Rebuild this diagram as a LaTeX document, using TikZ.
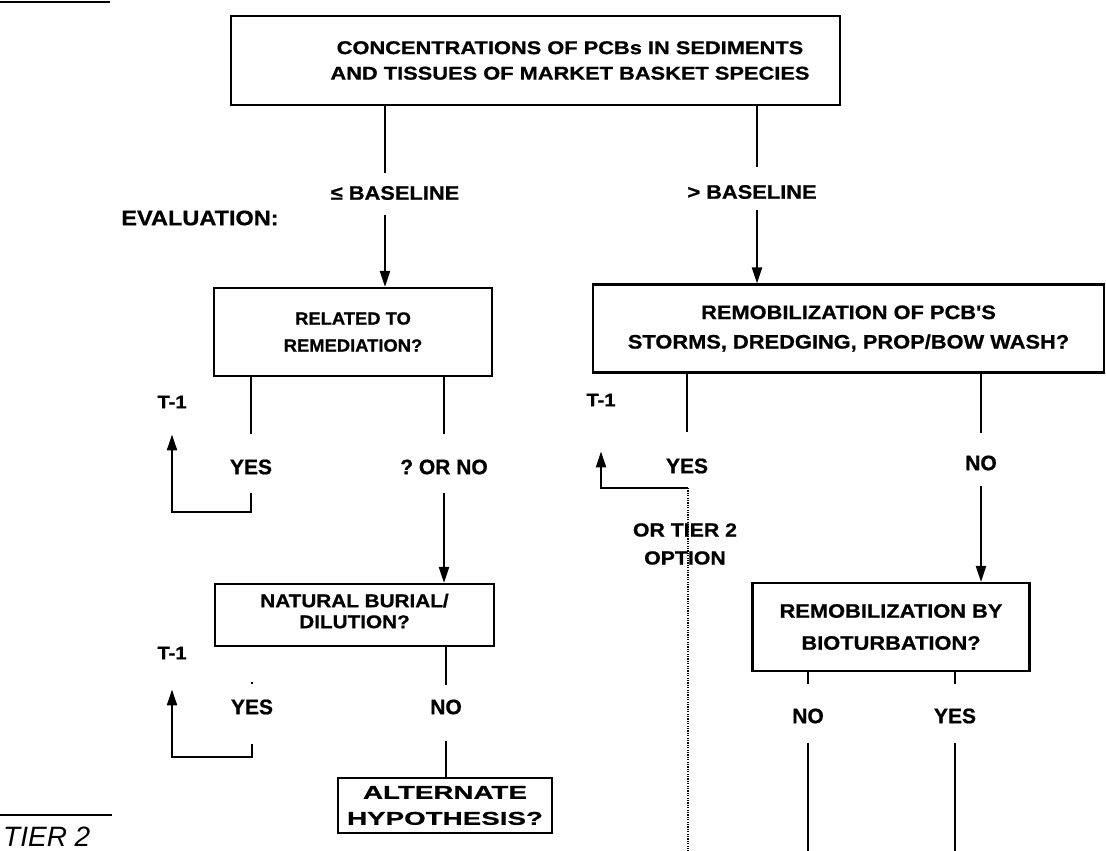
\documentclass[tikz,border=0pt]{standalone}
\usepackage{fontspec}
\setmainfont{Liberation Sans}
\newfontfamily\lsA{Liberation Sans}[FakeStretch=1.18, FakeBold=0.8]
\newfontfamily\lsB{Liberation Sans}[FakeStretch=1.12, FakeBold=0.8]
\newfontfamily\lsC{Liberation Sans}[FakeStretch=1.05, FakeBold=0.8]
\newfontfamily\lsD{Liberation Sans}[FakeBold=0.8]
\newfontfamily\lsX{Liberation Sans}[FakeStretch=1.5, FakeBold=0.8]
\usetikzlibrary{arrows.meta}

\tikzset{
  box/.style={draw, line width=2.1pt, inner sep=0pt, align=center},
  conn/.style={line width=2.1pt},
  arr/.style={conn, -{Triangle[length=16pt,width=10pt]}},
  opt/.style={line width=1.5pt, dash pattern=on 1.2pt off 1.2pt},
  ans/.style={inner sep=0pt, font=\fontsize{21}{24}\lsD\bfseries},
  tone/.style={inner sep=0pt, font=\fontsize{18}{20}\lsB\bfseries},
  base/.style={inner sep=0pt, font=\fontsize{19.5}{22}\lsB\bfseries},
  rule/.style={line width=2.5pt},
}

\begin{document}
\frenchspacing
\begin{tikzpicture}[x=1pt,y=-1pt]
\useasboundingbox (0,0) rectangle (1106,851);
\fill[white] (0,0) rectangle (1106,851);

% page rules and headings
\draw[rule] (0,2) -- (110,2);
\draw[rule] (0,815) -- (112,815);
\node[anchor=base west, inner sep=0pt, font=\fontsize{28}{31}\selectfont\itshape] (tier) at (3,846) {TIER 2};
\node[inner sep=0pt, font=\fontsize{21}{24}\lsB\bfseries] (eval) at (200,218) {EVALUATION:};

% decision boxes
\node[box, minimum width=609pt, minimum height=89pt, font=\fontsize{18.5}{25.5}\lsA\bfseries] (top) at (535.5,60.5)
  {\hspace*{69pt}CONCENTRATIONS OF PCBs IN SEDIMENTS\\\hspace*{69pt}AND TISSUES OF MARKET BASKET SPECIES};
\node[box, minimum width=278pt, minimum height=88pt, font=\fontsize{17.5}{27}\lsC\bfseries] (r1) at (353,332)
  {RELATED TO\\REMEDIATION?};
\node[box, minimum width=511pt, minimum height=88pt, font=\fontsize{19.5}{29.5}\lsB\bfseries] (r2) at (848.5,328.5)
  {REMOBILIZATION OF PCB'S\\STORMS, DREDGING, PROP/BOW WASH?};
\node[box, minimum width=279pt, minimum height=62pt, text depth=8pt, font=\fontsize{18.5}{21}\lsB\bfseries] (r3) at (354.5,615)
  {NATURAL BURIAL/\\DILUTION?};
\node[box, minimum width=214pt, minimum height=55pt, font=\fontsize{18.5}{26}\lsX\bfseries] (r4) at (445,805.5)
  {ALTERNATE\\HYPOTHESIS?};
\node[box, minimum width=277pt, minimum height=88pt, font=\fontsize{19.5}{32}\lsB\bfseries] (r5) at (891,627)
  {REMOBILIZATION BY\\BIOTURBATION?};

% branch labels
\node[base] (blo) at (395,193) {≤ BASELINE};
\node[base] (bhi) at (752,192) {> BASELINE};
\node[ans] (y1) at (251,467) {YES};
\node[ans] (q1) at (444,467) {? OR NO};
\node[tone] (t1) at (172,402) {T-1};
\node[ans] (y2) at (252,707) {YES};
\node[ans] (n1) at (446,707) {NO};
\node[tone] (t2) at (172,653) {T-1};
\node[ans] (y3) at (687,466) {YES};
\node[ans] (n2) at (981,463) {NO};
\node[tone] (t3) at (601,400) {T-1};
\node[ans] (n3) at (808,716) {NO};
\node[ans] (y4) at (955,716) {YES};
\node[inner sep=0pt, align=center, font=\fontsize{19}{28}\lsB\bfseries] (alt) at (685,544) {OR TIER 2\\OPTION};

% columns and loose ends
\coordinate (colL) at (385,0);
\coordinate (colR) at (757,0);
\coordinate (j3) at (688,488);
\coordinate (e3) at (688,860);
\coordinate (e4) at (808,860);
\coordinate (e5) at (955,860);

% baseline split
\draw[conn, shorten >=20pt] (top.south -| colL) -- (colL |- blo);
\draw[arr, shorten <=22pt] (colL |- blo) -- (r1.north -| colL);
\draw[conn, shorten >=25pt] (top.south -| colR) -- (colR |- bhi);
\draw[arr, shorten <=18pt] (colR |- bhi) -- (r2.north -| colR);

% left branch
\draw[conn, shorten >=25pt] (r1.south -| y1) -- (y1);
\draw[arr, shorten <=18pt, shorten >=26pt] (y1) -- ++(0,45) -| (t1);
\draw[conn, shorten >=25pt] (r1.south -| q1) -- (q1);
\draw[arr, shorten <=18pt] (q1) -- (r3.north -| q1);
\draw[conn, shorten <=37pt, shorten >=17pt] (r3.south -| y2) -- (y2);
\draw[arr, shorten <=29pt, shorten >=30pt] (y2) -- ++(0,50) -| (t2);
\draw[conn, shorten >=14pt] (r3.south -| n1) -- (n1);
\draw[conn, shorten <=26pt] (n1) -- (r4.north -| n1);

% right branch
\draw[conn, shorten >=26pt] (r2.south -| y3) -- (y3);
\draw[arr, shorten >=45pt] (j3) -| (t3);
\draw[opt] (j3) -- (e3);
\draw[conn, shorten >=22pt] (r2.south -| n2) -- (n2);
\draw[arr, shorten <=15pt] (n2) -- (r5.north -| n2);
\draw[conn, shorten >=24pt] (r5.south -| n3) -- (n3);
\draw[conn, shorten <=19pt] (n3) -- (e4);
\draw[conn, shorten >=24pt] (r5.south -| y4) -- (y4);
\draw[conn, shorten <=19pt] (y4) -- (e5);
\end{tikzpicture}
\end{document}
